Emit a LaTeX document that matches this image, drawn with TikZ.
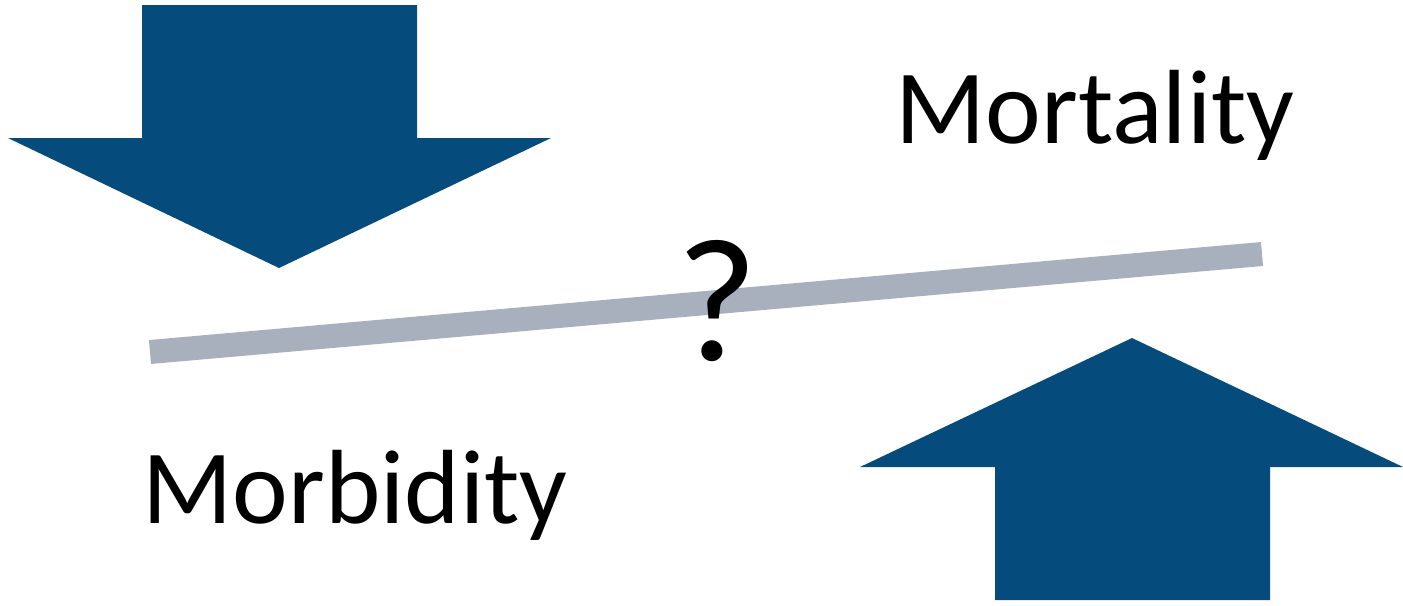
\documentclass[tikz,border=0pt]{standalone}
\usepackage{fontspec}
\setmainfont{Carlito}
\definecolor{arrowblue}{HTML}{054B7B}
\definecolor{bargray}{HTML}{A9B0BD}
\begin{document}
\begin{tikzpicture}[x=0.01cm,y=-0.01cm,
  bigarrow/.style={fill=arrowblue,draw=none},
  label/.style={font=\fontsize{30}{36}\selectfont,inner sep=0pt}]
\useasboundingbox (0,0) rectangle (1403,605);
% down arrow
\fill[bigarrow] (142,5) -- (417,5) -- (417,138) -- (551,138) -- (279,268) -- (8,138) -- (142,138) -- cycle;
% up arrow
\fill[bigarrow] (995,600) -- (1270,600) -- (1270,467) -- (1403,467) -- (1132,338) -- (860,467) -- (995,467) -- cycle;
% bar
\coordinate (barL) at (150,352);
\coordinate (barR) at (1262,254);
\draw[bargray,line width=0.24cm] (barL) -- (barR);
% texts
\node[label,anchor=base] (mort) at (1095,143) {Mortality};
\node[label,anchor=base] (morb) at (355,523) {Morbidity};
\node[inner sep=0pt,anchor=base,font=\fontsize{50}{56}\selectfont] (q) at (717,360) {?};
\end{tikzpicture}
\end{document}
